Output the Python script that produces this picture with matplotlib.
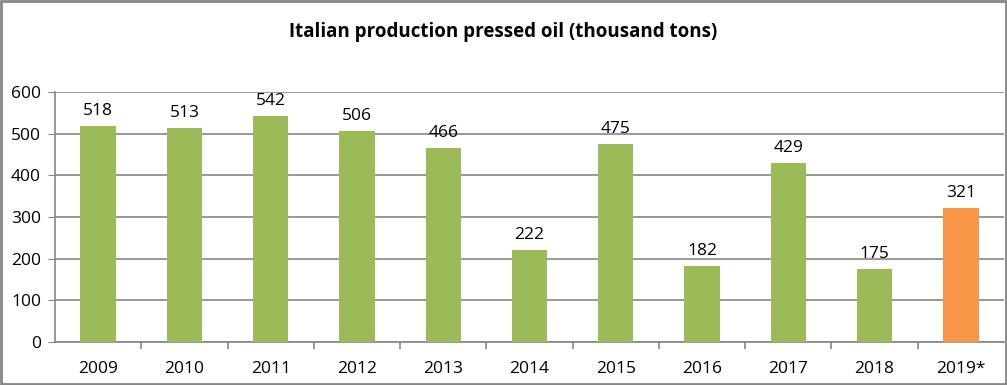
import matplotlib
matplotlib.use("Agg")
import matplotlib.pyplot as plt
from matplotlib.patches import Rectangle

categories = ["2009", "2010", "2011", "2012", "2013", "2014", "2015", "2016", "2017", "2018", "2019*"]
values = [518, 513, 542, 506, 466, 222, 475, 182, 429, 175, 321]
colors = ["#9BBB59"] * 10 + ["#F79646"]
yticks = [0, 100, 200, 300, 400, 500, 600]
title = "Italian production pressed oil (thousand tons)"

plt.rcParams['font.family'] = ['Open Sans', 'DejaVu Sans']

W, H = 1007, 385
fig = plt.figure(figsize=(W / 100, H / 100), dpi=100)
ax = fig.add_axes([55 / W, 1 - 342 / H, (1004 - 55) / W, (342 - 92) / H])

fs = 12.5
x = list(range(len(categories)))
ax.bar(x, values, width=0.41, color=colors, zorder=3)
for xi, v in zip(x, values):
    ax.annotate(str(v), (xi, v), xytext=(0, 5), textcoords="offset points",
                ha="center", va="bottom", fontsize=fs, color="#000000")

ax.set_xlim(-0.5, len(categories) - 0.5)
ax.set_ylim(0, 600)
ax.set_yticks(yticks)
ax.set_yticklabels([str(t) for t in yticks], fontsize=fs)
ax.yaxis.grid(True, color="#868686", linewidth=1.2, zorder=0)
ax.set_xticks(x)
ax.set_xticklabels(categories, fontsize=fs)
ax.tick_params(axis="x", length=0, pad=14)
ax.tick_params(axis="y", length=5, color="#868686", pad=5, direction="out")
ax.set_xticks([i + 0.5 for i in range(len(categories) - 1)], minor=True)
ax.tick_params(axis="x", which="minor", length=5, color="#868686", direction="out", width=1.2)

for s in ["top", "right"]:
    ax.spines[s].set_visible(False)
for s in ["left", "bottom"]:
    ax.spines[s].set_color("#868686")
    ax.spines[s].set_linewidth(1.2)

fig.text(503 / W, 1 - 32 / H, title, ha="center", va="center", fontsize=13.5, fontweight="bold")

fig.patches.append(Rectangle((1 / W, 1 / H), 1 - 2 / W, 1 - 2 / H, transform=fig.transFigure,
                             fill=False, edgecolor="#868686", linewidth=2))

fig.savefig("out.png", dpi=100)
